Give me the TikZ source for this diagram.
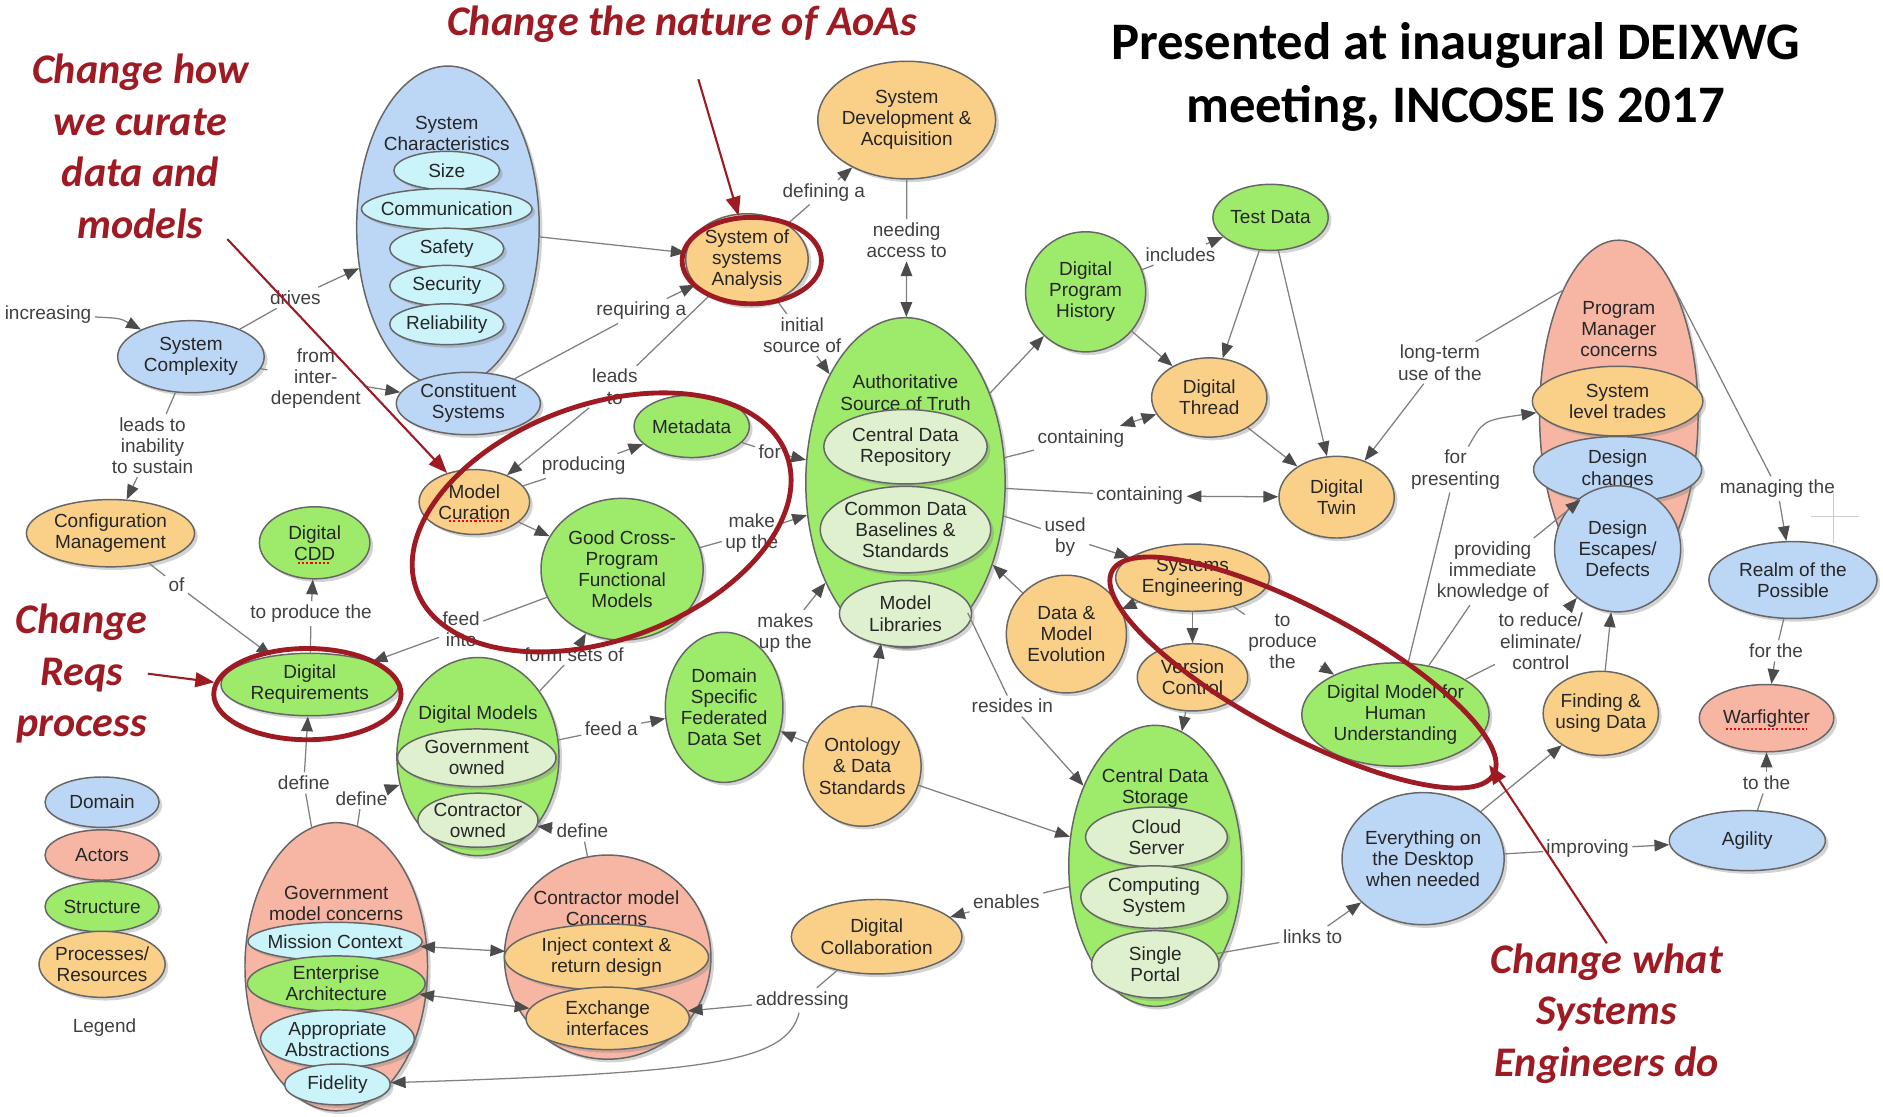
\documentclass[tikz,border=0pt]{standalone}
\usepackage{fontspec}
\setmainfont{Liberation Sans}
\newfontfamily\notefont{Carlito}
\usetikzlibrary{shapes.geometric,arrows.meta,shadows}

\definecolor{domblue}{RGB}{188,214,246}
\definecolor{actorred}{RGB}{247,182,164}
\definecolor{structgreen}{RGB}{158,234,106}
\definecolor{procorange}{RGB}{250,208,136}
\definecolor{subcyan}{RGB}{202,244,250}
\definecolor{subgreen}{RGB}{222,240,206}
\definecolor{notered}{RGB}{158,27,35}

\tikzset{
  concept/.style={ellipse, draw=black!60, line width=0.7pt, inner xsep=-5pt, inner ysep=-3pt,
    align=center, font=\fontsize{9}{10}\selectfont, text=black!85,
    drop shadow={shadow xshift=1.5pt, shadow yshift=-1.5pt, opacity=0.35}},
  sz/.style 2 args={minimum width=#1*0.02cm, minimum height=#2*0.02cm},
  dom/.style={concept, fill=domblue},
  actor/.style={concept, fill=actorred},
  struct/.style={concept, fill=structgreen},
  proc/.style={concept, fill=procorange},
  subc/.style={concept, fill=subcyan},
  subg/.style={concept, fill=subgreen},
  txt/.style={align=center, inner sep=0pt, font=\fontsize{9}{10}\selectfont, text=black!85},
  lbl/.style={align=center, inner sep=1.5pt, font=\fontsize{9}{10}\selectfont, text=black!75},
  link/.style={draw=black!50, line width=0.6pt},
  arr/.style={link, -{Triangle[length=7pt,width=5.5pt,color=black!70]}},
  darr/.style={link, {Triangle[length=7pt,width=5.5pt,color=black!70]}-{Triangle[length=7pt,width=5.5pt,color=black!70]}},
  note/.style={align=center, inner sep=0pt, text=notered,
    font=\notefont\bfseries\itshape\fontsize{20}{24.4}\selectfont},
  headline/.style={align=center, inner sep=0pt, font=\notefont\bfseries\fontsize{25}{29.5}\selectfont},
  ring/.style={ellipse, draw=notered, line width=2.3pt, inner sep=0pt},
  notearr/.style={draw=notered, line width=1pt, -{Triangle[length=9pt,width=7pt]}},
  spell/.style={draw=red, densely dotted, line width=1pt},
}

\begin{document}
\begin{tikzpicture}[x=0.02cm, y=-0.02cm]
  \useasboundingbox (0,0) rectangle (1568,930);

  % Legend
  \node[dom, sz={95}{42}] (legDomain) at (85,668) {Domain};
  \node[actor, sz={95}{42}] (legActors) at (85,712) {Actors};
  \node[struct, sz={95}{42}] (legStruct) at (85,755) {Structure};
  \node[proc, sz={105}{55}] (legProc) at (85,803) {Processes/\\Resources};
  \node[lbl] (legend) at (87,856) {Legend};

  % Domain concepts
  \node[dom, sz={152}{268}] (sysChar) at (373,189) {};
  \node[txt] (sysCharT) at (372,111) {System\\Characteristics};
  \node[subc, sz={88}{32}] (size) at (372,142) {Size};
  \node[subc, sz={142}{34}] (comm) at (372,174) {Communication};
  \node[subc, sz={95}{34}] (safety) at (372,207) {Safety};
  \node[subc, sz={95}{34}] (security) at (372,238) {Security};
  \node[subc, sz={95}{34}] (reliab) at (372,270) {Reliability};
  \node[dom, sz={122}{60}] (sysComplex) at (159,297) {System\\Complexity};
  \node[dom, sz={120}{52}] (constituent) at (390,336) {Constituent\\Systems};
  \node[dom, sz={135}{110}] (desktop) at (1185,715) {Everything on\\the Desktop\\when needed};
  \node[dom, sz={130}{50}] (agility) at (1455,700) {Agility};
  \node[dom, sz={140}{64}] (realm) at (1493,483) {Realm of the\\Possible};

  % Program manager
  \node[actor, sz={132}{290}] (pmConcerns) at (1348,345) {};
  \node[txt] (pmT) at (1348,274) {Program\\Manager\\concerns};
  \node[proc, sz={142}{58}] (sysTrades) at (1347,334) {System\\level trades};
  \node[dom, sz={140}{55}] (designChg) at (1347,391) {Design\\changes};
  \node[dom, sz={105}{105}] (designEsc) at (1347,457) {Design\\Escapes/\\Defects};
  \node[actor, sz={112}{56}] (warfighter) at (1471,598) {Warfighter};

  % Government / contractor
  \node[actor, sz={152}{240}] (govConcerns) at (280,805) {};
  \node[txt] (govT) at (280,752) {Government\\model concerns};
  \node[subc, sz={145}{32}] (mission) at (279,784) {Mission Context};
  \node[struct, sz={148}{46}] (enterprise) at (280,819) {Enterprise\\Architecture};
  \node[subc, sz={128}{48}] (approp) at (281,865) {Appropriate\\Abstractions};
  \node[subc, sz={88}{34}] (fidelity) at (281,903) {Fidelity};
  \node[actor, sz={172}{170}] (contrConcerns) at (506,797) {};
  \node[txt] (contrT) at (505,756) {Contractor model\\Concerns};
  \node[proc, sz={170}{55}] (inject) at (505,797) {Inject context \&\\return design};
  \node[proc, sz={136}{52}] (exchange) at (506,848) {Exchange\\interfaces};

  % Structure
  \node[struct, sz={92}{60}] (digitalCDD) at (262,452) {Digital\\CDD};
  \node[struct, sz={148}{52}] (digitalReq) at (258,570) {Digital\\Requirements};
  \node[struct, sz={96}{52}] (metadata) at (576,355) {Metadata};
  \node[struct, sz={135}{118}] (goodCross) at (518,474) {Good Cross-\\Program\\Functional\\Models};
  \node[struct, sz={135}{165}] (digitalModels) at (398,630) {};
  \node[txt] (digitalModelsT) at (398,595) {Digital Models};
  \node[subg, sz={132}{48}] (govOwned) at (397,631) {Government\\owned};
  \node[subg, sz={100}{45}] (contrOwned) at (398,683) {Contractor\\owned};
  \node[struct, sz={98}{125}] (domainSpec) at (603,589) {Domain\\Specific\\Federated\\Data Set};
  \node[struct, sz={166}{275}] (authSource) at (754,402) {};
  \node[txt] (authT) at (754,327) {Authoritative\\Source of Truth};
  \node[subg, sz={136}{62}] (centralRepo) at (754,372) {Central Data\\Repository};
  \node[subg, sz={142}{72}] (commonData) at (754,441) {Common Data\\Baselines \&\\Standards};
  \node[subg, sz={110}{55}] (modelLib) at (754,511) {Model\\Libraries};
  \node[struct, sz={100}{100}] (progHistory) at (904,243) {Digital\\Program\\History};
  \node[struct, sz={96}{55}] (testData) at (1058,181) {Test Data};
  \node[struct, sz={144}{234}] (centralStorage) at (962,721) {};
  \node[txt] (storageT) at (962,656) {Central Data\\Storage};
  \node[subg, sz={118}{50}] (cloud) at (963,697) {Cloud\\Server};
  \node[subg, sz={122}{52}] (computing) at (961,747) {Computing\\System};
  \node[subg, sz={106}{56}] (portal) at (962,803) {Single\\Portal};
  \node[struct, sz={156}{86}] (digitalModelHU) at (1162,595) {Digital Model for\\Human\\Understanding};

  % Processes
  \node[proc, sz={148}{98}] (sysDev) at (755,100) {System\\Development \&\\Acquisition};
  \node[proc, sz={102}{76}] (sos) at (622,216) {System of\\systems\\Analysis};
  \node[proc, sz={140}{56}] (configMgmt) at (92,444) {Configuration\\Management};
  \node[proc, sz={92}{54}] (modelCuration) at (395,418) {Model\\Curation};
  \node[proc, sz={96}{66}] (digitalThread) at (1007,331) {Digital\\Thread};
  \node[proc, sz={96}{68}] (digitalTwin) at (1113,414) {Digital\\Twin};
  \node[proc, sz={128}{56}] (sysEng) at (993,481) {Systems\\Engineering};
  \node[proc, sz={92}{56}] (versionCtrl) at (993,564) {Version\\Control};
  \node[proc, sz={100}{98}] (dataEvo) at (888,528) {Data \&\\Model\\Evolution};
  \node[proc, sz={98}{100}] (ontology) at (718,638) {Ontology\\\& Data\\Standards};
  \node[proc, sz={142}{62}] (digitalCollab) at (730,780) {Digital\\Collaboration};
  \node[proc, sz={96}{70}] (findingData) at (1333,594) {Finding \&\\using Data};

  % spell-check marks
  \draw[spell] (374,434) -- (418,434);
  \draw[spell] (248,469) -- (276,469);
  \draw[spell] (1437,607) -- (1504,607);

  % Link labels
  \node[lbl] (increasing) at (40,262) {increasing};
  \node[lbl] (drives) at (246,248) {drives};
  \node[lbl] (fromInter) at (263,315) {from\\inter-\\dependent};
  \node[lbl] (leadsInab) at (127,371) {leads to\\inability\\to sustain};
  \node[lbl] (ofLbl) at (147,487) {of};
  \node[lbl] (toProdCDD) at (259,511) {to produce the};
  \node[lbl] (requiring) at (534,259) {requiring a};
  \node[lbl] (leadsTo) at (512,322) {leads\\to};
  \node[lbl] (defining) at (686,160) {defining a};
  \node[lbl] (needing) at (755,200) {needing\\access to};
  \node[lbl] (initialSrc) at (668,279) {initial\\source of};
  \node[lbl] (producing) at (486,388) {producing};
  \node[lbl] (forLbl) at (641,376) {for};
  \node[lbl] (makeUp) at (626,444) {make\\up the};
  \node[lbl] (feedInto) at (384,524) {feed\\into};
  \node[lbl] (formSets) at (478,545) {form sets of};
  \node[lbl] (feedA) at (509,607) {feed a};
  \node[lbl] (makesUp) at (654,527) {makes\\up the};
  \node[lbl] (residesIn) at (843,588) {resides in};
  \node[lbl] (enables) at (838,751) {enables};
  \node[lbl] (addressing) at (668,833) {addressing};
  \node[lbl] (linksTo) at (1093,780) {links to};
  \node[lbl] (improving) at (1322,707) {improving};
  \node[lbl] (toThe) at (1471,652) {to the};
  \node[lbl] (includes) at (983,212) {includes};
  \node[lbl] (contain1) at (900,365) {containing};
  \node[lbl] (contain2) at (949,413) {containing};
  \node[lbl] (usedBy) at (887,447) {used\\by};
  \node[lbl] (toProduce) at (1068,534) {to\\produce\\the};
  \node[lbl] (forPresent) at (1212,391) {for\\presenting};
  \node[lbl] (providing) at (1243,476) {providing\\immediate\\knowledge of};
  \node[lbl] (toReduce) at (1283,534) {to reduce/\\eliminate/\\control};
  \node[lbl] (longTerm) at (1199,302) {long-term\\use of the};
  \node[lbl] (managing) at (1480,407) {managing the};
  \node[lbl] (forThe) at (1479,542) {for the};
  \node[lbl] (define1) at (253,652) {define};
  \node[lbl] (define2) at (301,665) {define};
  \node[lbl] (define3) at (485,692) {define};

  % Links
  \draw[arr] (increasing) .. controls (100,265) .. (sysComplex);
  \draw[link] (sysComplex) -- (drives);     \draw[arr] (drives) -- (sysChar);
  \draw[link] (sysComplex) -- (fromInter);  \draw[arr] (fromInter) -- (constituent);
  \draw[link] (sysComplex) -- (leadsInab);  \draw[arr] (leadsInab) -- (configMgmt);
  \draw[link] (configMgmt) -- (ofLbl);      \draw[arr] (ofLbl) -- (digitalReq);
  \draw[link] (digitalReq) -- (toProdCDD);  \draw[arr] (toProdCDD) -- (digitalCDD);
  \draw[arr] (sysChar) -- (sos);
  \draw[link] (constituent) -- (requiring); \draw[arr] (requiring) -- (sos);
  \draw[link] (sos) -- (defining);          \draw[arr] (defining) -- (sysDev);
  \draw[darr] (sysDev) -- (needing) -- (authSource);
  \draw[link] (sos) -- (initialSrc);        \draw[arr] (initialSrc) -- (authSource);
  \draw[link] (sos) -- (leadsTo);           \draw[arr] (leadsTo) -- (modelCuration);
  \draw[link] (modelCuration) -- (producing); \draw[arr] (producing) -- (metadata);
  \draw[arr] (modelCuration) -- (goodCross);
  \draw[link] (metadata) -- (forLbl);       \draw[arr] (forLbl) -- (authSource);
  \draw[link] (goodCross) -- (makeUp);      \draw[arr] (makeUp) -- (authSource);
  \draw[link] (goodCross) -- (feedInto);    \draw[arr] (feedInto) -- (digitalReq);
  \draw[link] (digitalModels) -- (formSets); \draw[arr] (formSets) -- (goodCross);
  \draw[link] (digitalModels) -- (feedA);   \draw[arr] (feedA) -- (domainSpec);
  \draw[link] (domainSpec) -- (makesUp);    \draw[arr] (makesUp) -- (authSource);
  \draw[arr] (ontology) -- (domainSpec);
  \draw[arr] (ontology) -- (authSource);
  \draw[arr] (ontology) -- (centralStorage);
  \draw[link] (authSource) -- (residesIn);  \draw[arr] (residesIn) -- (centralStorage);
  \draw[link] (centralStorage) -- (enables); \draw[arr] (enables) -- (digitalCollab);
  \draw[link] (digitalCollab) -- (addressing); \draw[arr] (addressing) -- (exchange);
  \draw[arr] (addressing) .. controls (655,885) and (590,893) .. (fidelity);
  \draw[link] (portal) -- (linksTo);        \draw[arr] (linksTo) -- (desktop);
  \draw[link] (desktop) -- (improving);     \draw[arr] (improving) -- (agility);
  \draw[link] (agility) -- (toThe);         \draw[arr] (toThe) -- (warfighter);
  \draw[arr] (desktop) -- (findingData);
  \draw[arr] (findingData) -- (designEsc);
  \draw[arr] (authSource) -- (progHistory);
  \draw[link] (progHistory) -- (includes);  \draw[arr] (includes) -- (testData);
  \draw[arr] (progHistory) -- (digitalThread);
  \draw[arr] (testData) -- (digitalThread);
  \draw[arr] (testData) -- (digitalTwin);
  \draw[arr] (digitalThread) -- (digitalTwin);
  \draw[darr] (authSource) -- (contain1) -- (digitalThread);
  \draw[darr] (authSource) -- (contain2) -- (digitalTwin);
  \draw[link] (authSource) -- (usedBy);     \draw[arr] (usedBy) -- (sysEng);
  \draw[arr] (dataEvo) -- (authSource);
  \draw[arr] (sysEng) -- (dataEvo);
  \draw[arr] (sysEng) -- (versionCtrl);
  \draw[arr] (versionCtrl) -- (centralStorage);
  \draw[link] (sysEng) -- (toProduce);      \draw[arr] (toProduce) -- (digitalModelHU);
  \draw[link] (digitalModelHU) -- (forPresent); \draw[arr] (forPresent) .. controls (1235,350) .. (sysTrades);
  \draw[link] (digitalModelHU) -- (providing); \draw[arr] (providing) -- (designChg);
  \draw[link] (digitalModelHU) -- (toReduce); \draw[arr] (toReduce) -- (designEsc);
  \draw[link] (pmConcerns.north west) -- (longTerm); \draw[arr] (longTerm) -- (digitalTwin);
  \draw[link] (pmConcerns.north east) -- (managing); \draw[arr] (managing) -- (realm);
  \draw[link] (realm) -- (forThe);          \draw[arr] (forThe) -- (warfighter);
  \draw[link] (govConcerns) -- (define1);   \draw[arr] (define1) -- (digitalReq);
  \draw[link] (govConcerns) -- (define2);   \draw[arr] (define2) -- (digitalModels);
  \draw[link] (contrConcerns) -- (define3); \draw[arr] (define3) -- (contrOwned);
  \draw[darr] (mission) -- (inject);
  \draw[darr] (enterprise) -- (exchange);

  % stray cross
  \draw[black!20, line width=0.5pt] (1527,410) -- (1527,452) (1508,430) -- (1548,430);

  % Annotations
  \node[headline] (title) at (1212,64) {Presented at inaugural DEIXWG\\meeting, INCOSE IS 2017};
  \node[note] (natureNote) at (568,20) {Change the nature of AoAs};
  \node[note] (howNote) at (117,122) {Change how\\we curate\\data and\\models};
  \node[note] (reqsNote) at (68,561) {Change\\Reqs\\process};
  \node[note] (whatNote) at (1338,844) {Change what\\Systems\\Engineers do};

  \node[ring, sz={116}{72}] (ringSoS) at (626,217) {};
  \node[ring, sz={328}{196}, rotate=20] (ringCuration) at (501,435) {};
  \node[ring, sz={156}{76}] (ringReq) at (256,578) {};
  \node[ring, sz={360}{104}, rotate=-28] (ringSE) at (1085,560) {};
  \coordinate (seTip) at (1240,637);

  \draw[notearr, shorten <=18pt] (natureNote) -- (ringSoS);
  \draw[notearr] (howNote) -- (modelCuration);
  \draw[notearr] (reqsNote.east) -- (ringReq);
  \draw[notearr] (whatNote.north) -- (seTip);
\end{tikzpicture}
\end{document}
